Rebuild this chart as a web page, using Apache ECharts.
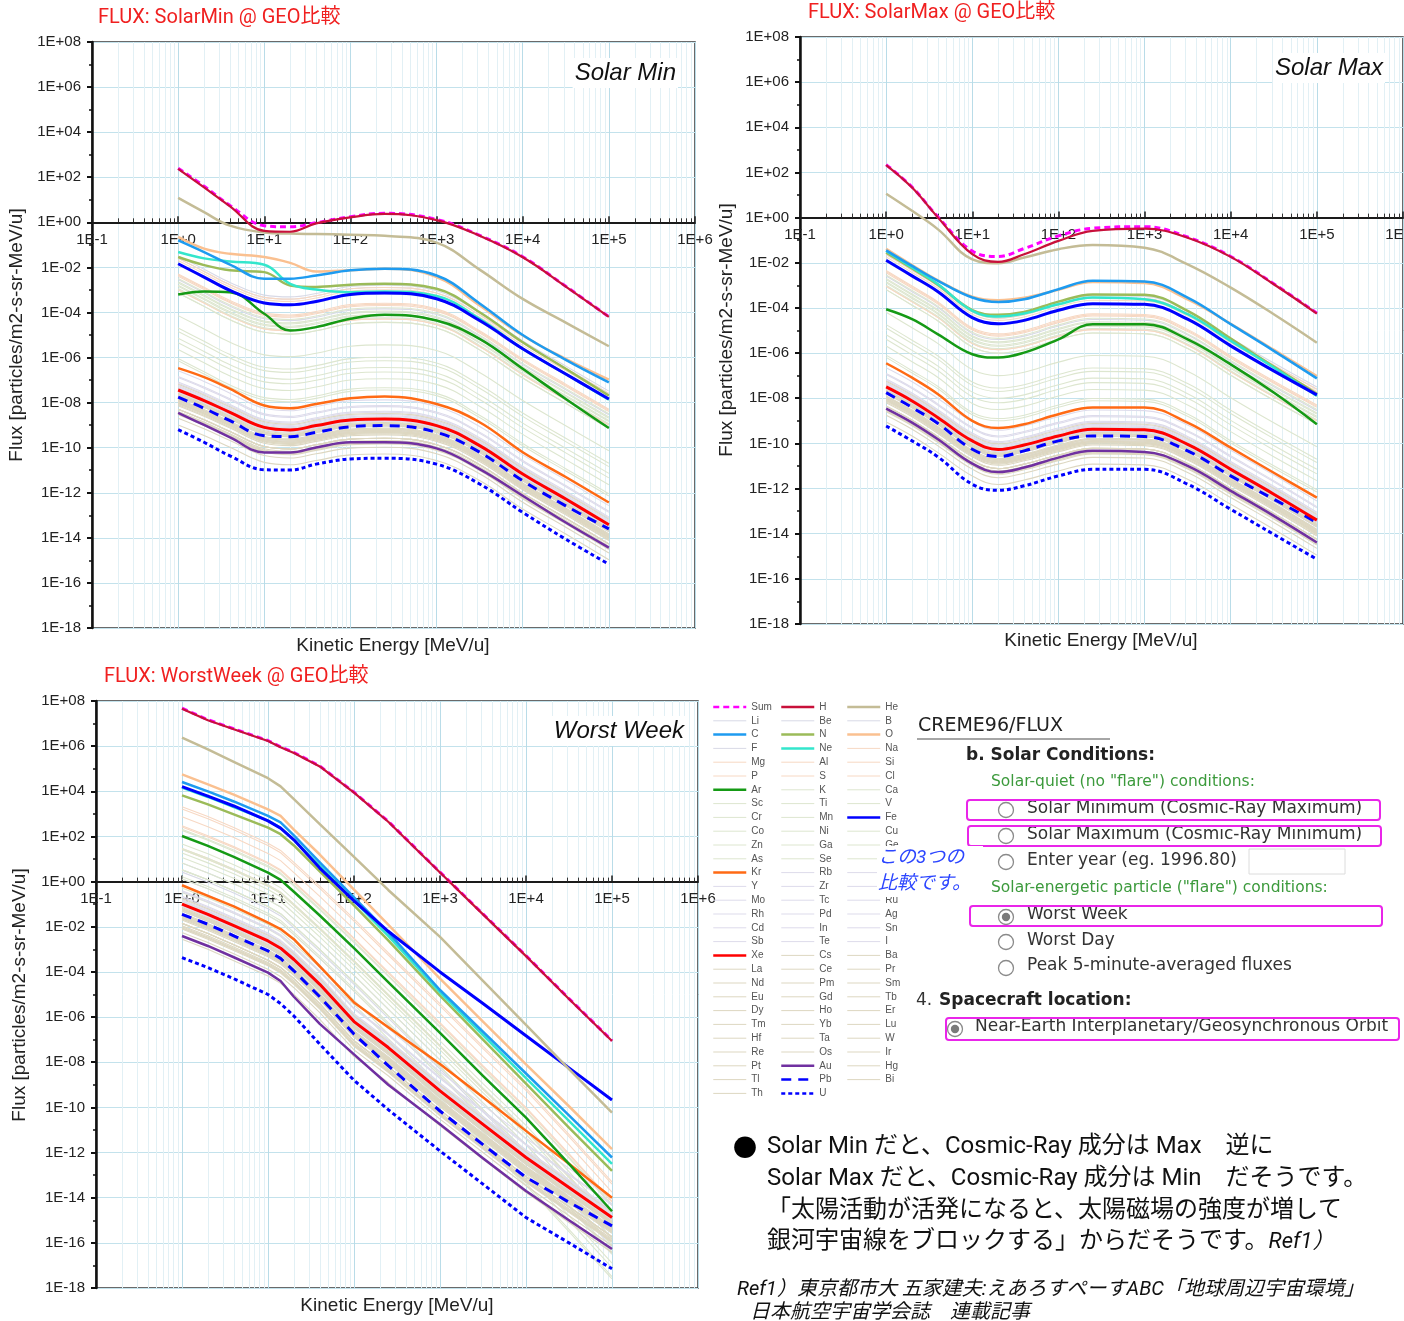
<!DOCTYPE html>
<html><head><meta charset="utf-8">
<script src="https://cdn.jsdelivr.net/npm/echarts@6/dist/echarts.min.js"></script>
<style>html,body{margin:0;padding:0;background:#fff}#c{width:1404px;height:1321px}</style>
</head><body><div id="c"></div><script>
// ---------- DATA (energies in MeV/u, fluxes as log10 of particles/m2-s-sr-MeV/u) ----------
const energyQuiet = [1, 2, 4, 10, 20, 40, 100, 250, 1000, 3160, 10000, 31600, 100000];
const energyWorst = [1, 2, 4, 10, 14, 20, 40, 100, 250, 1000, 3160, 10000, 31600, 100000];

// Solar Min
const minSum = [2.40, 1.60, 0.75, -0.15, -0.20, -0.02, 0.25, 0.40, 0.13, -0.58, -1.53, -2.84, -4.19];
const minH   = [2.37, 1.55, 0.71, -0.38, -0.42, -0.05, 0.22, 0.37, 0.10, -0.60, -1.55, -2.85, -4.20];
const minHe  = [1.08, 0.45, -0.15, -0.45, -0.50, -0.52, -0.55, -0.60, -0.90, -2.10, -3.40, -4.45, -5.50];
const minC   = [-0.80, -1.32, -1.88, -2.50, -2.50, -2.36, -2.13, -2.06, -2.36, -3.60, -5.00, -6.10, -7.10];
const minN   = [-1.54, -1.90, -2.13, -2.21, -2.80, -2.87, -2.77, -2.73, -2.95, -3.99, -5.32, -6.50, -7.69];
const minO   = [-0.65, -1.17, -1.40, -1.54, -1.80, -2.18, -2.13, -2.06, -2.43, -3.69, -5.02, -6.06, -6.98];
const minNe  = [-1.32, -1.60, -1.74, -1.88, -2.73, -2.98, -3.10, -3.07, -3.27, -4.28, -5.61, -6.73, -7.87];
const minAr  = [-3.20, -3.07, -3.10, -4.06, -4.80, -4.65, -4.28, -4.10, -4.36, -5.17, -6.50, -7.84, -9.13];
const minFe  = [-1.84, -2.43, -3.02, -3.58, -3.66, -3.51, -3.20, -3.14, -3.39, -4.36, -5.61, -6.73, -7.84];
const minKr  = [-6.47, -6.87, -7.39, -8.13, -8.25, -8.06, -7.81, -7.73, -8.06, -8.87, -10.20, -11.30, -12.43];
const minXe  = [-7.44, -7.91, -8.43, -9.10, -9.21, -9.02, -8.77, -8.73, -9.02, -9.91, -11.17, -12.28, -13.42];
const minAu  = [-8.46, -8.99, -9.54, -10.21, -10.21, -9.99, -9.76, -9.76, -10.03, -10.95, -12.13, -13.32, -14.43];
const minPb  = [-7.76, -8.25, -8.80, -9.47, -9.51, -9.32, -9.07, -9.02, -9.32, -10.20, -11.47, -12.58, -13.60];
const minU   = [-9.20, -9.76, -10.36, -10.98, -10.99, -10.73, -10.50, -10.47, -10.73, -11.61, -12.87, -14.06, -15.17];

// Solar Max
const maxSum = [2.35, 1.35, 0.03, -1.48, -1.72, -1.37, -0.81, -0.47, -0.40, -0.86, -1.72, -2.93, -4.23];
const maxH   = [2.33, 1.33, 0.00, -1.62, -1.96, -1.62, -1.03, -0.59, -0.49, -0.89, -1.74, -2.95, -4.25];
const maxHe  = [1.06, 0.30, -0.52, -1.85, -2.02, -1.77, -1.40, -1.21, -1.33, -2.07, -3.10, -4.28, -5.54];
const maxC   = [-1.45, -2.14, -2.80, -3.54, -3.74, -3.62, -3.17, -2.80, -2.83, -3.54, -4.72, -5.90, -7.12];
const maxN   = [-1.55, -2.25, -2.98, -4.10, -4.30, -4.18, -3.72, -3.40, -3.42, -4.13, -5.36, -6.60, -7.80];
const maxO   = [-1.38, -2.10, -2.78, -3.50, -3.66, -3.55, -3.20, -2.85, -2.90, -3.62, -4.70, -5.85, -7.02];
const maxNe  = [-1.48, -2.21, -2.95, -4.13, -4.38, -4.25, -3.84, -3.54, -3.62, -4.28, -5.46, -6.64, -7.90];
const maxAr  = [-4.06, -4.50, -5.17, -6.05, -6.20, -5.98, -5.39, -4.72, -4.72, -5.39, -6.50, -7.75, -9.15];
const maxFe  = [-1.89, -2.58, -3.28, -4.43, -4.70, -4.55, -4.10, -3.81, -3.84, -4.50, -5.68, -6.79, -7.85];
const maxKr  = [-6.45, -7.09, -7.82, -9.00, -9.32, -9.15, -8.71, -8.41, -8.41, -9.08, -10.19, -11.30, -12.40];
const maxXe  = [-7.50, -8.12, -8.86, -9.89, -10.27, -10.07, -9.67, -9.37, -9.40, -10.04, -11.15, -12.25, -13.40];
const maxAu  = [-8.46, -9.08, -9.82, -10.90, -11.27, -11.07, -10.63, -10.33, -10.38, -11.00, -12.10, -13.21, -14.39];
const maxPb  = [-7.75, -8.41, -9.12, -10.26, -10.58, -10.33, -9.89, -9.67, -9.70, -10.33, -11.44, -12.47, -13.50];
const maxU   = [-9.23, -9.89, -10.60, -11.81, -12.08, -11.88, -11.44, -11.15, -11.15, -11.81, -12.92, -14.03, -15.13];

// Worst Week
const wwSum = [7.68, 7.17, 6.77, 6.25, 5.97, 5.72, 5.12, 3.96, 2.67, 0.42, -1.43, -3.28, -5.18, -7.04];
const wwH   = [7.66, 7.15, 6.75, 6.23, 5.95, 5.70, 5.10, 3.94, 2.65, 0.40, -1.45, -3.30, -5.20, -7.06];
const wwHe  = [6.38, 5.86, 5.30, 4.58, 4.22, 3.65, 2.55, 1.10, -0.37, -2.45, -4.40, -6.35, -8.30, -10.23];
const wwC   = [4.41, 4.00, 3.55, 2.91, 2.62, 2.05, 0.85, -0.70, -2.25, -4.80, -6.65, -8.50, -10.35, -12.22];
const wwN   = [3.82, 3.42, 2.98, 2.39, 2.10, 1.60, 0.45, -1.05, -2.60, -5.05, -7.00, -8.95, -10.90, -12.81];
const wwO   = [4.75, 4.31, 3.85, 3.20, 2.91, 2.30, 1.20, -0.35, -1.90, -4.30, -6.20, -8.10, -9.95, -11.85];
const wwNe  = [4.16, 3.75, 3.30, 2.70, 2.38, 1.85, 0.70, -0.85, -2.40, -4.90, -6.80, -8.70, -10.60, -12.50];
const wwAr  = [2.02, 1.58, 1.10, 0.40, 0.08, -0.45, -1.50, -2.95, -4.45, -6.70, -8.60, -10.45, -12.50, -14.60];
const wwFe  = [4.21, 3.79, 3.35, 2.69, 2.37, 1.85, 0.60, -0.85, -2.20, -4.00, -5.40, -6.83, -8.25, -9.67];
const wwKr  = [-0.16, -0.63, -1.10, -1.82, -2.10, -2.55, -3.75, -5.35, -6.45, -8.08, -9.55, -11.04, -12.50, -14.00];
const wwXe  = [-1.00, -1.45, -1.95, -2.63, -2.95, -3.45, -4.55, -6.20, -7.35, -9.27, -10.75, -12.22, -13.55, -14.88];
const wwAu  = [-2.41, -2.85, -3.35, -4.03, -4.40, -5.10, -6.30, -7.65, -9.00, -10.75, -12.25, -13.70, -15.00, -16.27];
const wwPb  = [-1.45, -1.89, -2.40, -3.07, -3.40, -3.95, -5.10, -6.75, -8.15, -10.16, -11.65, -13.10, -14.20, -15.25];
const wwU   = [-3.37, -3.81, -4.30, -5.00, -5.40, -5.95, -7.20, -8.80, -10.10, -11.93, -13.40, -14.88, -16.00, -17.15];

// Faint (unhighlighted) elements: estimated levels (log10 offsets) relative to a neighbouring drawn curve
const faintNames = ['Li','Be','B','F','Na','Mg','Al','Si','P','S','Cl','K','Ca','Sc','Ti','V','Cr','Mn','Co','Ni','Cu','Zn','Ga','Ge','As','Se','Br',
  'Rb','Sr','Y','Zr','Nb','Mo','Tc','Ru','Rh','Pd','Ag','Cd','In','Sn','Sb','Te','I','Cs','Ba','La','Ce','Pr','Nd','Pm','Sm','Eu','Gd','Tb','Dy','Ho','Er','Tm','Yb','Lu','Hf','Ta','W','Re','Os','Ir','Pt','Hg','Tl','Bi','Th'];
const faintLightOffsetQuiet = [0.25,-0.05,0.35,-0.70,-0.50,0.25,-0.45,0.15,-1.15,-0.55,-1.15,-1.00,-0.65,-1.30,-0.85,-1.10,-0.80,-0.95,-2.30,-1.30,-3.00,-2.85,-3.50,-3.30,-4.20,-3.80,-4.30];
const faintLightOffsetWorst = [-1.60,-1.90,-1.50,-1.20,0.45,1.30,0.40,1.20,-0.60,0.85,-0.55,-0.75,0.25,-1.50,-0.60,-1.20,-0.35,-0.55,-0.95,0.30,-1.80,-1.50,-2.30,-1.90,-2.90,-2.50,-3.00];
const faintHeavyOffset = [0.55,0.85,0.35,0.60,-0.05,0.30,-0.55,0.10,-0.30,-0.05,-0.25,-0.10,-0.50,0.15,-0.45,0.20,-0.30,
  -0.25,0.25,-0.40,-0.15,-0.55,-0.20,-0.95,-0.50,-0.85,-0.45,-0.85,-0.45,-0.85,-0.55,-1.00,-0.60,-1.05,-0.70,-1.10,-0.65,-1.05,-0.20,-0.30,0.05,-0.60,-0.85,-1.25,-1.55];

const elementOrder = ['H','He','Li','Be','B','C','N','O','F','Ne','Na','Mg','Al','Si','P','S','Cl','Ar','K','Ca','Sc','Ti','V','Cr','Mn','Fe','Co','Ni','Cu','Zn','Ga','Ge','As','Se','Br','Kr','Rb','Sr','Y','Zr','Nb','Mo','Tc','Ru','Rh','Pd','Ag','Cd','In','Sn','Sb','Te','I','Xe','Cs','Ba','La','Ce','Pr','Nd','Pm','Sm','Eu','Gd','Tb','Dy','Ho','Er','Tm','Yb','Lu','Hf','Ta','W','Re','Os','Ir','Pt','Au','Hg','Tl','Pb','Bi','Th','U'];
const legendOrder = ['Sum'].concat(elementOrder);

// ---------- STYLES ----------
const mainNames = ['U','Au','Pb','Xe','Kr','Ar','N','Ne','O','C','Fe','He','Sum','H'];
const mainStyle = {
  Sum:{color:'#ff00ff', width:3, type:[6,4]},
  H:{color:'#c8103a', width:2.2, type:'solid'},
  He:{color:'#c4bc96', width:2.5, type:'solid'},
  C:{color:'#1e9bf0', width:2.5, type:'solid'},
  N:{color:'#9bbb59', width:2.5, type:'solid'},
  O:{color:'#fac090', width:2.5, type:'solid'},
  Ne:{color:'#33e6cc', width:2.5, type:'solid'},
  Ar:{color:'#159a15', width:2.5, type:'solid'},
  Fe:{color:'#0000ff', width:3, type:'solid'},
  Kr:{color:'#ff6a14', width:2.5, type:'solid'},
  Xe:{color:'#ff0000', width:3, type:'solid'},
  Au:{color:'#7030a0', width:2.5, type:'solid'},
  Pb:{color:'#0000ff', width:3, type:[10,7]},
  U:{color:'#0000ff', width:3, type:[4,3]}
};
function faintColor(i){ if(i<4) return '#d8d9e6'; if(i<11) return '#f7d8c3'; if(i<27) return '#dde6cf'; if(i<44) return '#dddbeb'; return '#ddd7c1'; }

const chartsDef = [
  {energy: energyQuiet, smooth: 0.4, main:{Sum:minSum,H:minH,He:minHe,C:minC,N:minN,O:minO,Ne:minNe,Ar:minAr,Fe:minFe,Kr:minKr,Xe:minXe,Au:minAu,Pb:minPb,U:minU}, lightRef:minFe, lightOff:faintLightOffsetQuiet, heavyRef:minXe},
  {energy: energyQuiet, smooth: 0.4, main:{Sum:maxSum,H:maxH,He:maxHe,C:maxC,N:maxN,O:maxO,Ne:maxNe,Ar:maxAr,Fe:maxFe,Kr:maxKr,Xe:maxXe,Au:maxAu,Pb:maxPb,U:maxU}, lightRef:maxFe, lightOff:faintLightOffsetQuiet, heavyRef:maxXe},
  {energy: energyWorst, smooth: false, main:{Sum:wwSum,H:wwH,He:wwHe,C:wwC,N:wwN,O:wwO,Ne:wwNe,Ar:wwAr,Fe:wwFe,Kr:wwKr,Xe:wwXe,Au:wwAu,Pb:wwPb,U:wwU}, lightRef:wwAr, lightOff:faintLightOffsetWorst, heavyRef:wwXe}
];
const gridsPos = [
  {left:92, top:42, width:603, height:586},
  {left:800, top:37, width:603, height:587},
  {left:96, top:701, width:602, height:587}
];
const Y_MIN = -18, Y_MAX = 8;

// ---------- BUILD ----------
const FONT = 'Liberation Sans, Arial, sans-serif';
function yLab(v){ const e=Math.round(v); return '1E'+(e<0?'-':'+')+String(Math.abs(e)).padStart(2,'0'); }
function xLab(v){ const e=Math.round(Math.log10(v)); return '1E'+(e<0?'-':'+')+Math.abs(e); }

const grid=[], xAxis=[], yAxis=[], series=[];
chartsDef.forEach((cd, ci) => {
  const g = gridsPos[ci];
  grid.push(Object.assign({show:true, borderColor:'#3a3a3a', borderWidth:1.5, backgroundColor:'#fff', containLabel:false, outerBoundsMode:'none'}, g));
  xAxis.push({type:'log', logBase:10, gridIndex:ci, min:0.1, max:1e6, splitNumber:7,
    axisLine:{show:true, onZero:true, lineStyle:{color:'#1a1a1a', width:2}},
    axisTick:{show:true, inside:true, length:6, lineStyle:{color:'#1a1a1a', width:1.5}},
    minorTick:{show:true, splitNumber:9, length:4, lineStyle:{color:'#333', width:1}},
    axisLabel:{show:false},
    splitLine:{show:true, lineStyle:{color:'#b9dce8', width:1}},
    minorSplitLine:{show:true, lineStyle:{color:'#e2f0f5', width:1}}
  });
  yAxis.push({type:'value', gridIndex:ci, min:Y_MIN, max:Y_MAX, interval:2,
    axisLine:{show:true, onZero:false, lineStyle:{color:'#111', width:2.5}},
    axisTick:{show:true, length:5, lineStyle:{color:'#111', width:2}},
    minorTick:{show:true, splitNumber:2, length:3, lineStyle:{color:'#111', width:1.5}},
    axisLabel:{margin:11, fontSize:15, fontFamily:FONT, color:'#222', formatter:yLab},
    splitLine:{show:true, lineStyle:{color:'#c3e2ec', width:1}}
  });
  const toData = vals => cd.energy.map((e,k)=>[e, vals[k]]);
  faintNames.forEach((nm, i) => {
    const ref = i < 27 ? cd.lightRef : cd.heavyRef;
    const off = i < 27 ? cd.lightOff[i] : faintHeavyOffset[i-27];
    series.push({type:'line', name:nm, xAxisIndex:ci, yAxisIndex:ci, data: toData(ref.map(v=>v+off)),
      symbol:'none', showSymbol:false, smooth:cd.smooth, silent:true, z:2,
      lineStyle:{color:faintColor(i), width:1.1}, emphasis:{disabled:true}});
  });
  mainNames.forEach((nm) => {
    const st = mainStyle[nm];
    series.push({type:'line', name:nm, xAxisIndex:ci, yAxisIndex:ci, data: toData(cd.main[nm]),
      symbol:'none', showSymbol:false, smooth:cd.smooth, silent:true, z:3,
      lineStyle:{color:st.color, width:st.width, type:st.type, join:'round'}, itemStyle:{color:st.color}, emphasis:{disabled:true}});
  });
});
// label-only x axes placed on the 1E+00 line (offset upward from the grid bottom)
chartsDef.forEach((cd, ci) => {
  const g = gridsPos[ci];
  const zeroFromBottom = g.height * (0 - Y_MIN) / (Y_MAX - Y_MIN);
  xAxis.push({type:'log', logBase:10, gridIndex:ci, min:0.1, max:1e6, splitNumber:7, position:'bottom', offset:-zeroFromBottom,
    axisLine:{show:false, onZero:false}, axisTick:{show:false}, minorTick:{show:false}, splitLine:{show:false}, minorSplitLine:{show:false},
    axisLabel:{show:true, margin:10, fontSize:15, fontFamily:FONT, color:'#222', formatter:xLab, showMinLabel:true, showMaxLabel:true, hideOverlap:false}
  });
});

const legendX = [712, 780, 846];
const legend = [0,1,2].map(c => ({
  orient:'vertical', left:legendX[c], top:701, padding:0, itemGap:1.8, itemWidth:33, itemHeight:12,
  selectedMode:false, itemStyle:{opacity:0},
  textStyle:{fontSize:10, color:'#555', fontFamily:FONT, lineHeight:12},
  data: legendOrder.filter((_, i) => i % 3 === c).map(n => ({name:n, lineStyle:{width: mainStyle[n] ? 2.5 : 1}}))
}));

// ---------- TEXT / ANNOTATIONS ----------
function T(x, y, text, o){
  o = o || {};
  const st = {text:text, fill:o.color||'#222', fontSize:o.size||14, fontFamily:o.family||FONT,
    fontWeight:o.weight||'normal', fontStyle:o.fstyle||'normal',
    align:o.align||'left', verticalAlign:'middle', textAlign:o.align||'left', textVerticalAlign:'middle'};
  if (o.bg) { st.backgroundColor = o.bg; st.padding = o.pad || [2,4]; }
  if (o.rich) st.rich = o.rich;
  return {type:'text', x:x, y:y, rotation:o.rot||0, z:o.z||50, scaleX:o.sx||1, style:st};
}
const JP = 'Roboto, "Noto Sans CJK JP", sans-serif';
const FORM = '"DejaVu Sans", Verdana, sans-serif';
function radio(cx, cy, sel){
  const els = [{type:'circle', z:50, shape:{cx:cx, cy:cy, r:7.5}, style:{fill:'#fff', stroke:'#8a8a8a', lineWidth:1.3}}];
  if (sel) els.push({type:'circle', z:51, shape:{cx:cx, cy:cy, r:4.2}, style:{fill:'#7a7a7a'}});
  return els;
}
function box(x, y, w, h){ return {type:'rect', z:52, shape:{x:x, y:y, width:w, height:h, r:3}, style:{fill:'none', stroke:'#e925e9', lineWidth:2}}; }

const gfx = [
  T(98, 18, 'FLUX: SolarMin @ GEO比較', {color:'#f02020', size:20, family:JP}),
  T(808, 13, 'FLUX: SolarMax @ GEO比較', {color:'#f02020', size:20, family:JP}),
  T(104, 677, 'FLUX: WorstWeek @ GEO比較', {color:'#f02020', size:20, family:JP}),
  T(678, 73, 'Solar Min', {size:24, fstyle:'italic', align:'right', bg:'#fff', pad:[3,2], color:'#111'}),
  T(1385, 68, 'Solar Max', {size:24, fstyle:'italic', align:'right', bg:'#fff', pad:[3,2], color:'#111'}),
  T(686, 731, 'Worst Week', {size:24, fstyle:'italic', align:'right', bg:'#fff', pad:[3,2], color:'#111'}),
  T(17, 335, 'Flux [particles/m2-s-sr-MeV/u]', {size:19, align:'center', rot:Math.PI/2}),
  T(727, 330, 'Flux [particles/m2-s-sr-MeV/u]', {size:19, align:'center', rot:Math.PI/2}),
  T(20, 995, 'Flux [particles/m2-s-sr-MeV/u]', {size:19, align:'center', rot:Math.PI/2}),
  T(393, 646, 'Kinetic Energy [MeV/u]', {size:19, align:'center'}),
  T(1101, 641, 'Kinetic Energy [MeV/u]', {size:19, align:'center'}),
  T(397, 1306, 'Kinetic Energy [MeV/u]', {size:19, align:'center'}),
  // blue note over legend
  {type:'rect', z:60, shape:{x:877, y:846, width:106, height:51}, style:{fill:'#fff'}},
  T(878, 858, 'この3つの', {size:19, family:JP, color:'#2b45ff', fstyle:'italic', z:61}),
  T(878, 884, '比較です。', {size:19, family:JP, color:'#2b45ff', fstyle:'italic', z:61}),
  // CREME96 form
  T(918, 726, 'CREME96/FLUX', {size:19, family:FORM, color:'#222'}),
  {type:'line', z:50, shape:{x1:917, y1:739, x2:1110, y2:739}, style:{stroke:'#888', lineWidth:1.5}},
  T(966, 756, 'b. Solar Conditions:', {size:17, family:FORM, weight:'bold', color:'#222'}),
  T(991, 782, 'Solar-quiet (no "flare") conditions:', {size:15.5, family:FORM, color:'#3c9a3c'}),
  T(1027, 809, 'Solar Minimum (Cosmic-Ray Maximum)', {size:17, family:FORM, color:'#333'}),
  T(1027, 835, 'Solar Maximum (Cosmic-Ray Minimum)', {size:17, family:FORM, color:'#333'}),
  T(1027, 861, 'Enter year (eg. 1996.80)', {size:17, family:FORM, color:'#333'}),
  {type:'rect', z:50, shape:{x:1249, y:849, width:96, height:25}, style:{fill:'#fff', stroke:'#dcdcdc', lineWidth:1}},
  T(991, 888, 'Solar-energetic particle ("flare") conditions:', {size:15.5, family:FORM, color:'#3c9a3c'}),
  T(1027, 915, 'Worst Week', {size:17, family:FORM, color:'#333'}),
  T(1027, 941, 'Worst Day', {size:17, family:FORM, color:'#333'}),
  T(1027, 966, 'Peak 5-minute-averaged fluxes', {size:17, family:FORM, color:'#333'}),
  T(916, 1001, '4.', {size:17, family:FORM, color:'#333'}),
  T(939, 1001, 'Spacecraft location:', {size:17, family:FORM, weight:'bold', color:'#222'}),
  T(975, 1027, 'Near-Earth Interplanetary/Geosynchronous Orbit', {size:17, family:FORM, color:'#333'}),
  box(967, 800, 413, 20), box(968, 826, 413, 20), box(970, 906, 412, 20), box(946, 1018, 453, 22),
  // Japanese notes
  T(733, 1147, '●', {size:24, family:'"Noto Sans CJK JP", sans-serif', color:'#000'}),
  T(767, 1147, 'Solar Min だと、Cosmic-Ray 成分は Max　逆に', {size:24, family:JP, color:'#111'}),
  T(767, 1179, 'Solar Max だと、Cosmic-Ray 成分は Min　だそうです。', {size:24, family:JP, color:'#111'}),
  T(767, 1211, '「太陽活動が活発になると、太陽磁場の強度が増して', {size:24, family:JP, color:'#111'}),
  T(767, 1242, '{a|銀河宇宙線をブロックする」からだそうです。}{b|Ref1）}', {size:24, family:JP, color:'#111',
    rich:{a:{fontSize:24, fontFamily:JP, fill:'#111'}, b:{fontSize:22, fontFamily:JP, fontStyle:'italic', fill:'#111'}}}),
  T(737, 1290, 'Ref1）東京都市大 五家建夫:えあろすぺーすABC「地球周辺宇宙環境」', {size:20, family:JP, fstyle:'italic', color:'#111'}),
  T(750, 1313, '日本航空宇宙学会誌　連載記事', {size:20, family:JP, fstyle:'italic', color:'#111'})
];
radio(1006, 810).concat(radio(1006, 836), radio(1006, 862), radio(1006, 917, true), radio(1006, 942), radio(1006, 968), radio(955, 1029, true)).forEach(e => gfx.push(e));

const chart = echarts.init(document.getElementById('c'), null, {renderer:'canvas', width:1404, height:1321});
chart.setOption({
  animation:false, backgroundColor:'#fff',
  grid:grid, xAxis:xAxis, yAxis:yAxis, series:series, legend:legend,
  graphic:{elements:gfx}
});
</script></body></html>
